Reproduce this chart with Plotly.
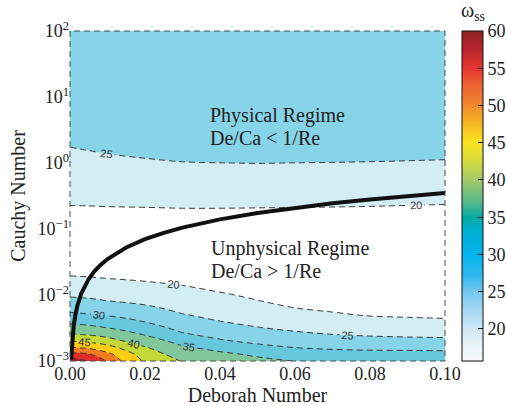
import plotly.graph_objects as go

# ---------------- data ----------------
deborah = [0.0, 0.005, 0.01, 0.015, 0.02, 0.03, 0.04, 0.05, 0.06, 0.07, 0.08, 0.09, 0.10]
log_cauchy = [-3.0, -2.9, -2.8, -2.7, -2.6, -2.5, -2.4, -2.3, -2.2, -2.1, -2.0, -1.9, -1.8,
              -1.7, -1.6, -1.3, -1.0, -0.8, -0.7, -0.6, -0.5, -0.3, -0.1, 0.0, 0.1, 0.2,
              0.3, 0.6, 1.0, 2.0]
omega_ss = [
    [63.5, 60.0, 54.7, 48.3, 44.4, 39.7, 38.2, 36.3, 34.9, 33.5, 33.0, 32.7, 32.5],
    [56.4, 55.5, 51.3, 46.9, 42.7, 37.7, 36.1, 34.2, 32.4, 31.6, 31.3, 31.2, 31.1],
    [50.6, 49.4, 47.0, 43.5, 40.5, 35.8, 33.5, 31.4, 30.05, 29.5, 29.25, 29.2, 29.1],
    [45.05, 44.1, 42.3, 39.7, 37.6, 33.3, 30.6, 29.0, 27.9, 27.3, 26.75, 26.4, 26.2],
    [40.5, 39.7, 38.3, 36.6, 34.75, 30.6, 28.6, 27.1, 25.8, 25.05, 24.5, 24.2, 24.0],
    [37.0, 36.3, 35.05, 33.7, 32.25, 28.6, 26.8, 25.2, 24.2, 23.5, 22.9, 22.5, 22.2],
    [33.8, 33.2, 32.2, 31.1, 29.8, 26.9, 25.05, 23.9, 22.8, 22.0, 21.3, 20.8, 20.5],
    [30.9, 30.3, 29.6, 28.75, 27.8, 25.2, 23.9, 22.7, 21.4, 20.5, 19.7, 19.5, 19.4],
    [28.5, 28.0, 27.4, 26.7, 25.8, 24.0, 22.7, 21.5, 20.05, 19.3, 19.0, 18.9, 18.8],
    [26.3, 25.9, 25.2, 24.7, 24.2, 22.8, 21.6, 20.2, 19.0, 18.6, 18.4, 18.3, 18.2],
    [24.4, 24.1, 23.7, 23.3, 22.8, 21.6, 20.45, 19.3, 18.4, 18.1, 17.9, 17.8, 17.7],
    [22.9, 22.6, 22.2, 21.9, 21.5, 20.5, 19.4, 18.6, 17.9, 17.6, 17.5, 17.4, 17.3],
    [21.4, 21.1, 20.7, 20.4, 20.1, 19.4, 18.6, 18.0, 17.5, 17.2, 17.1, 17.0, 16.9],
    [19.85, 19.6, 19.3, 19.1, 18.9, 18.5, 17.9, 17.5, 17.1, 16.9, 16.8, 16.7, 16.6],
    [18.6, 18.4, 18.2, 18.0, 17.9, 17.7, 17.3, 17.0, 16.7, 16.5, 16.4, 16.3, 16.2],
    [17.0, 17.0, 17.0, 16.9, 16.9, 16.8, 16.6, 16.4, 16.2, 16.1, 16.0, 15.9, 15.8],
    [18.0, 17.9, 17.9, 17.8, 17.8, 17.8, 17.7, 17.6, 17.6, 17.6, 17.5, 17.4, 17.3],
    [19.1, 19.1, 19.1, 19.1, 19.2, 19.2, 19.2, 19.1, 19.1, 19.0, 18.9, 18.8, 18.75],
    [19.7, 19.7, 19.75, 19.8, 19.8, 19.9, 19.9, 19.85, 19.8, 19.75, 19.7, 19.6, 19.5],
    [20.25, 20.3, 20.4, 20.4, 20.5, 20.6, 20.6, 20.6, 20.55, 20.5, 20.4, 20.3, 20.2],
    [20.8, 20.9, 21.0, 21.1, 21.2, 21.3, 21.35, 21.3, 21.3, 21.2, 21.15, 21.0, 20.95],
    [21.95, 22.1, 22.25, 22.4, 22.5, 22.7, 22.8, 22.8, 22.8, 22.7, 22.6, 22.5, 22.4],
    [23.1, 23.3, 23.5, 23.7, 23.85, 24.1, 24.3, 24.3, 24.3, 24.2, 24.1, 24.0, 23.9],
    [23.65, 23.9, 24.1, 24.35, 24.5, 24.86, 24.98, 25.04, 24.98, 24.93, 24.85, 24.74, 24.6],
    [24.2, 24.5, 24.75, 24.98, 25.2, 25.6, 25.7, 25.75, 25.7, 25.65, 25.6, 25.5, 25.4],
    [24.8, 25.06, 25.4, 25.65, 25.9, 26.3, 26.4, 26.4, 26.4, 26.35, 26.3, 26.2, 26.1],
    [25.3, 25.65, 26.0, 26.3, 26.5, 26.9, 27.0, 27.0, 27.0, 27.0, 26.9, 26.8, 26.7],
    [26.8, 27.0, 27.3, 27.5, 27.6, 27.8, 27.9, 27.9, 27.9, 27.9, 27.8, 27.8, 27.7],
    [28.0, 28.2, 28.3, 28.4, 28.5, 28.6, 28.6, 28.6, 28.6, 28.6, 28.5, 28.5, 28.5],
    [29.5, 29.5, 29.5, 29.5, 29.5, 29.5, 29.5, 29.5, 29.5, 29.5, 29.5, 29.5, 29.5],
]

# boundary De/Ca = 1/Re
boundary_de = [0.0003, 0.0005, 0.001, 0.0015, 0.002, 0.003, 0.004, 0.005, 0.0065, 0.008,
               0.01, 0.0125, 0.015, 0.02, 0.025, 0.03, 0.04, 0.05, 0.06, 0.07, 0.08,
               0.09, 0.1]
boundary_ca = [0.00105, 0.00175, 0.0035, 0.0052, 0.007, 0.0105, 0.014, 0.0175, 0.0228,
               0.028, 0.035, 0.0437, 0.0525, 0.07, 0.0875, 0.105, 0.14, 0.175, 0.21,
               0.245, 0.28, 0.315, 0.35]

levels = [20, 25, 30, 35, 40, 45, 50, 55, 60]
x_ticks = [0.0, 0.02, 0.04, 0.06, 0.08, 0.10]
y_exponents = [-3, -2, -1, 0, 1, 2]
cbar_ticks = [20, 25, 30, 35, 40, 45, 50, 55, 60]
cbar_min, cbar_max = 15.7, 60

# band fill colours (below 20, 20-25, ..., above 60)
band_colors = ["#ffffff", "#d3edf4", "#87d3e8", "#67c8dd", "#80c89b",
               "#c3d937", "#fdcd12", "#f37b22", "#e32c29", "#a11f22"]

cbar_colors = [(15.7, "#f7fbfe"), (18, "#e6f3fa"), (20, "#cfe9f7"), (22.5, "#a5d8f2"),
               (25, "#74c8ef"), (27, "#35b8ee"), (30, "#00b3ec"), (33, "#00b0d4"),
               (35, "#05aaa4"), (37, "#55b98c"), (40, "#a3c96a"), (42.5, "#d5dc3e"),
               (45, "#fbe321"), (47.5, "#f7b820"), (50, "#f1892e"), (52.5, "#ee6632"),
               (55, "#e8362f"), (57.5, "#b9252c"), (60, "#8b2424")]

# ---------------- figure ----------------
cauchy = [10 ** v for v in log_cauchy]
nb = len(band_colors) - 1
band_scale = [[k / nb, c] for k, c in enumerate(band_colors)]
cbar_scale = [[(v - cbar_min) / (cbar_max - cbar_min), c] for v, c in cbar_colors]

SERIF = "Liberation Serif, Times New Roman, serif"
TXT = "#222222"

fig = go.Figure()
fig.add_trace(go.Contour(
    x=deborah, y=cauchy, z=omega_ss,
    autocontour=False,
    contours=dict(start=levels[0], end=levels[-1], size=levels[1] - levels[0],
                  coloring="fill", showlabels=True,
                  labelfont=dict(size=11, color="#333333", family="Liberation Sans, Arial")),
    colorscale=band_scale,
    line=dict(color="#3a3a3a", width=1, dash="6px,4px", smoothing=1.0),
    showscale=False, hoverinfo="skip",
))
fig.add_trace(go.Scatter(
    x=boundary_de, y=boundary_ca, mode="lines",
    line=dict(color="#111111", width=4),
    hoverinfo="skip", showlegend=False,
))
# colour bar (continuous)
fig.add_trace(go.Scatter(
    x=[0.5], y=[1], mode="markers",
    marker=dict(size=1, color=[cbar_min], colorscale=cbar_scale, cmin=cbar_min, cmax=cbar_max,
                showscale=True,
                colorbar=dict(x=1.0453, xanchor="left", xpad=0, y=0.5, yanchor="middle",
                              len=1, lenmode="fraction", ypad=0, thickness=21,
                              outlinewidth=1, outlinecolor="#111111",
                              tickvals=cbar_ticks, ticks="inside", ticklen=5,
                              tickcolor="#111111",
                              tickfont=dict(family=SERIF, size=18, color=TXT))),
    hoverinfo="skip", showlegend=False,
))

fig.update_layout(
    width=506, height=406,
    margin=dict(l=70, r=61, t=31, b=45, autoexpand=False),
    paper_bgcolor="white", plot_bgcolor="white",
    font=dict(family=SERIF, color=TXT),
    showlegend=False,
    xaxis=dict(range=[0, 0.1], tickvals=x_ticks, tickformat=".2f",
               showgrid=False, zeroline=False, showline=False, ticks="",
               tickfont=dict(size=18, family=SERIF, color=TXT),
               title=dict(text="Deborah Number", font=dict(size=20, family=SERIF, color=TXT),
                          standoff=2),
               automargin=False),
    yaxis=dict(type="log", range=[-3, 2],
               tickvals=[10 ** e for e in y_exponents],
               ticktext=["10<sup>%s</sup>" % (("\u2212%d" % -e) if e < 0 else "%d" % e)
                         for e in y_exponents],
               showgrid=False, zeroline=False, showline=False, ticks="",
               tickfont=dict(size=18, family=SERIF, color=TXT),
               title=dict(text="Cauchy Number", font=dict(size=20, family=SERIF, color=TXT),
                          standoff=6),
               automargin=False),
    shapes=[dict(type="rect", xref="x domain", yref="y domain", x0=0, x1=1, y0=0, y1=1,
                 line=dict(color="#4a4a4a", width=1, dash="6px,4px"), layer="above")],
    annotations=[
        dict(text="Physical Regime", x=0.0368, y=0.723, xref="x", yref="y",
             xanchor="left", yanchor="middle", showarrow=False,
             font=dict(size=20, family=SERIF, color=TXT)),
        dict(text="De/Ca < 1/Re", x=0.0368, y=0.374, xref="x", yref="y",
             xanchor="left", yanchor="middle", showarrow=False,
             font=dict(size=20, family=SERIF, color=TXT)),
        dict(text="Unphysical Regime", x=0.0371, y=-1.298, xref="x", yref="y",
             xanchor="left", yanchor="middle", showarrow=False,
             font=dict(size=20, family=SERIF, color=TXT)),
        dict(text="De/Ca > 1/Re", x=0.0371, y=-1.632, xref="x", yref="y",
             xanchor="left", yanchor="middle", showarrow=False,
             font=dict(size=20, family=SERIF, color=TXT)),
        dict(text="\u03c9<sub>ss</sub>", x=1.075, y=1.06, xref="paper", yref="paper",
             xanchor="center", yanchor="middle", showarrow=False,
             font=dict(size=20, family=SERIF, color=TXT)),
    ],
)

fig.write_html("out.html")
